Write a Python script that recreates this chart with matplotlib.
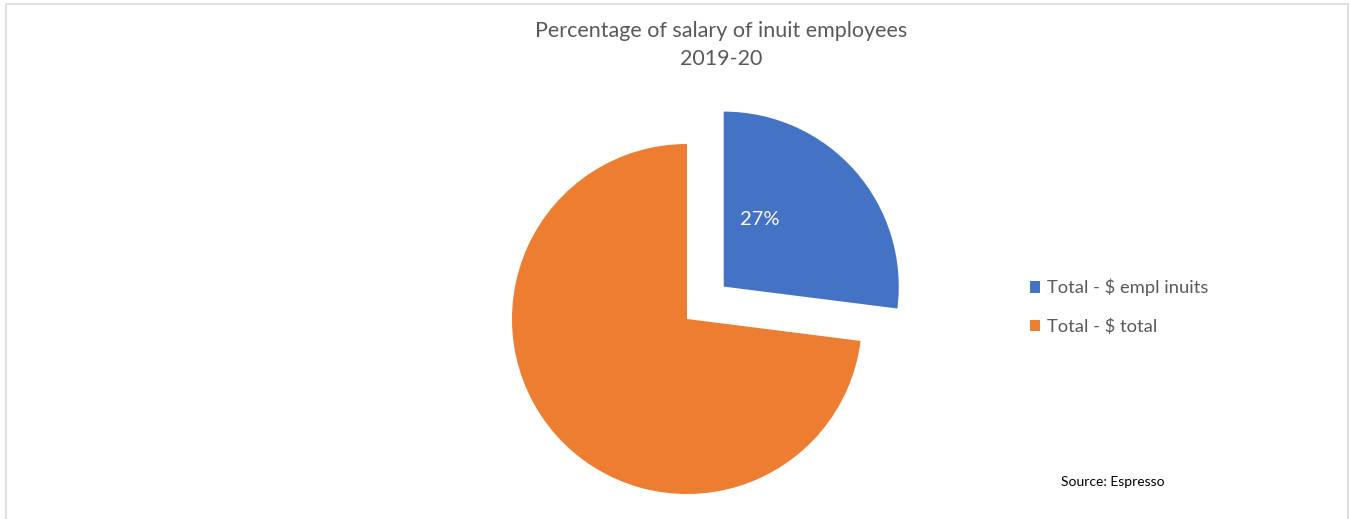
import matplotlib.pyplot as plt
from matplotlib.patches import Rectangle

categories = ["Total - $ empl inuits", "Total - $ total"]
shares = [27, 73]
colors = ["#4472C4", "#ED7D31"]
explode_frac = [0.28, 0.0]

title = "Percentage of salary of inuit employees\n2019-20"
source_note = "Source: Espresso"

W, H = 1350, 519
fig = plt.figure(figsize=(W / 100, H / 100), dpi=100)
ax = fig.add_axes([0, 0, 1, 1])

cx, cy, r = 687, H - 319, 175
# matplotlib's explode offset is in data units, so scale by the radius
wedges, _ = ax.pie(shares, colors=colors, explode=[e * r for e in explode_frac],
                   startangle=90, counterclock=False, center=(cx, cy), radius=r,
                   wedgeprops=dict(linewidth=0), frame=True)
ax.set_xlim(0, W)
ax.set_ylim(0, H)
ax.set_aspect("equal")
ax.axis("off")

# percentage label inside the exploded slice
w0 = wedges[0]
ax.text(w0.center[0] + 36, w0.center[1] + 67, f"{shares[0]}%",
        color="white", fontsize=14.5, family="Lato", ha="center", va="center")

fig.text(721 / W, 1 - 45 / H, title, ha="center", va="center",
         fontsize=15.5, family="Lato", color="#595959", linespacing=1.45)

leg = fig.legend(wedges, categories, loc="center left",
                 bbox_to_anchor=(1013 / W, 1 - 307 / H), frameon=False,
                 handlelength=0.55, handleheight=0.55, handletextpad=0.4,
                 labelspacing=1.2, prop=dict(family="Lato", size=13.2))
for t in leg.get_texts():
    t.set_color("#595959")

fig.text(1061 / W, 1 - 482 / H, source_note, ha="left", va="center",
         fontsize=10, family="Lato", color="black")

fig.patches.append(Rectangle((6 / W, -0.05), (1348 - 6) / W, 1.05 - 4 / H,
                             transform=fig.transFigure, fill=False,
                             edgecolor="#D9D9D9", linewidth=1.2))

fig.savefig("out.png", dpi=100)
